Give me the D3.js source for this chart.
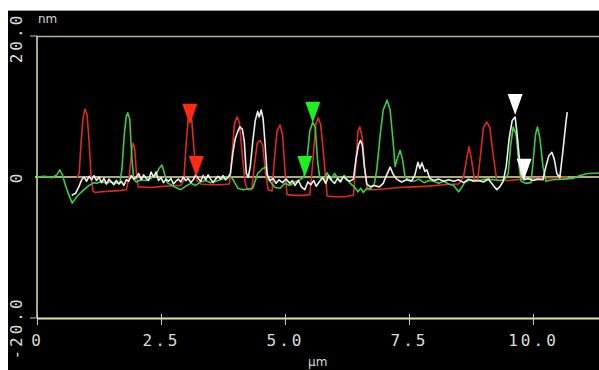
<!DOCTYPE html>
<html>
<head>
<meta charset="utf-8">
<script src="https://cdn.jsdelivr.net/npm/d3@7"></script>
<style>
	html, body { margin: 0; padding: 0; background: #fff; }
	svg { display: block; }
</style>
</head>
<body>
<svg id="chart"></svg>
<script>
// profile data : [x (µm), height (nm)]
const red = [
	[0.80, -0.2], [0.85, 0.5], [0.89, 5.0], [0.93, 8.5], [0.97, 9.6], [1.01, 8.8], [1.05, 5.0], [1.09, 0.0],
	[1.13, -2.0], [1.17, -2.2], [1.30, -2.1], [1.50, -2.0], [1.70, -1.9], [1.80, -1.8], [1.86, 0.0], [1.91, 3.8],
	[1.94, 4.8], [1.97, 4.0], [2.00, 1.0], [2.04, -1.4], [2.30, -1.5], [2.60, -1.3], [2.90, -1.2], [2.96, -0.5],
	[3.00, 4.0], [3.05, 8.3], [3.08, 9.0], [3.12, 8.0], [3.17, 3.5], [3.22, -0.5], [3.30, -1.0], [3.50, -1.1],
	[3.70, -1.1], [3.88, -1.0], [3.93, 3.0], [3.98, 7.5], [4.03, 8.5], [4.08, 7.8], [4.14, 3.0], [4.20, -1.0],
	[4.25, -1.8], [4.33, -1.8], [4.38, 1.5], [4.44, 4.8], [4.50, 5.2], [4.55, 4.5], [4.60, 1.0], [4.66, -1.8],
	[4.74, -2.0], [4.78, 2.0], [4.84, 6.5], [4.90, 7.4], [4.95, 6.0], [5.00, 1.0], [5.04, -2.5], [5.20, -2.6],
	[5.40, -2.6], [5.50, -2.5], [5.56, 2.0], [5.62, 7.5], [5.67, 8.4], [5.72, 7.4], [5.78, 3.0], [5.85, -2.7],
	[6.00, -2.8], [6.20, -2.8], [6.38, -2.6], [6.43, 2.0], [6.47, 6.5], [6.51, 7.1], [6.56, 5.5], [6.61, 1.0],
	[6.66, -1.8], [6.80, -1.8], [7.00, -1.7], [7.30, -1.5], [7.60, -1.4], [7.90, -1.3], [8.20, -1.1], [8.50, -1.0],
	[8.60, 0.0], [8.66, 2.5], [8.71, 4.3], [8.76, 2.5], [8.82, -0.3], [8.88, -0.6], [8.94, 3.0], [9.00, 7.0],
	[9.07, 7.8], [9.13, 7.0], [9.20, 3.0], [9.27, -0.5], [9.50, -0.5], [9.80, -0.3], [10.10, -0.2], [10.50, -0.1],
	[10.70, 0.0],
];

const green = [
	[0.00, 0.0], [0.16, 0.1], [0.30, -0.1], [0.40, 0.3], [0.46, 1.0], [0.52, 0.2], [0.56, -0.9], [0.64, -2.5],
	[0.71, -3.7], [0.78, -3.0], [0.87, -2.3], [0.95, -1.8], [1.05, -1.2], [1.15, -0.8], [1.21, -0.9], [1.30, -0.6],
	[1.40, -0.9], [1.47, -0.7], [1.57, -0.8], [1.67, -0.9], [1.71, 1.0], [1.76, 6.0], [1.80, 8.6], [1.83, 9.1],
	[1.87, 8.2], [1.91, 3.0], [1.95, -0.3], [2.00, -0.7], [2.10, -0.4], [2.20, -0.5], [2.30, -0.2], [2.40, 0.3],
	[2.46, 1.2], [2.52, 1.7], [2.57, 0.5], [2.62, -0.8], [2.70, -1.1], [2.80, -1.5], [2.90, -1.8], [3.00, -1.3],
	[3.10, -0.9], [3.20, -1.2], [3.30, -0.7], [3.40, -0.5], [3.50, -0.8], [3.60, -0.6], [3.70, -0.4], [3.80, -0.1],
	[3.90, 0.2], [3.97, -0.6], [4.05, -1.6], [4.15, -1.8], [4.25, -1.7], [4.35, -1.6], [4.45, 0.5], [4.55, 1.2],
	[4.62, 1.4], [4.66, -0.3], [4.72, -0.8], [4.80, -1.5], [4.90, -1.6], [5.00, -0.9], [5.10, -1.2], [5.20, -0.7],
	[5.30, -0.4], [5.38, 0.0], [5.45, 3.0], [5.50, 6.5], [5.56, 7.8], [5.61, 7.0], [5.66, 2.0], [5.70, -0.1],
	[5.78, -0.3], [5.85, 0.6], [5.92, -0.4], [6.00, 0.5], [6.10, -0.6], [6.20, 0.2], [6.30, -0.8], [6.41, -1.5],
	[6.47, -2.1], [6.53, -1.6], [6.58, -2.2], [6.65, -1.6], [6.72, -1.7], [6.80, -1.0], [6.85, 1.0], [6.92, 6.0],
	[6.98, 9.5], [7.06, 10.9], [7.12, 9.5], [7.18, 5.0], [7.22, 1.5], [7.26, 2.5], [7.32, 3.8], [7.37, 2.5],
	[7.42, 0.0], [7.50, -0.4], [7.60, -0.6], [7.70, -0.3], [7.80, -0.8], [7.90, -0.5], [8.00, -0.6], [8.10, -0.9],
	[8.20, -0.6], [8.30, -1.0], [8.40, -1.2], [8.50, -2.1], [8.56, -1.5], [8.63, -0.7], [8.75, -0.4], [8.90, -0.5],
	[9.05, -0.3], [9.20, -0.4], [9.35, -0.5], [9.45, -0.2], [9.50, 0.5], [9.55, 4.5], [9.60, 7.1], [9.66, 6.0],
	[9.72, 1.5], [9.76, -0.6], [9.85, -0.9], [9.96, -0.8], [10.00, 2.0], [10.05, 6.0], [10.09, 7.1], [10.14, 5.5],
	[10.20, 1.5], [10.26, -0.6], [10.40, -0.4], [10.60, -0.3], [10.80, -0.2], [10.95, 0.2], [11.10, 0.5], [11.40, 0.6],
];

const white = [
	[0.70, -2.6], [0.78, -2.3], [0.85, -1.3], [0.90, -0.4], [0.95, 0.0], [1.00, -0.6], [1.05, 0.1], [1.10, -0.4],
	[1.15, 0.2], [1.20, -0.5], [1.25, 0.0], [1.30, -0.8], [1.35, -0.2], [1.40, -1.0], [1.45, -0.3], [1.50, -0.7],
	[1.55, -1.1], [1.60, -0.5], [1.65, -1.0], [1.70, -0.6], [1.75, -1.2], [1.80, -0.4], [1.85, -0.6], [1.90, 0.2],
	[1.95, -0.3], [2.00, -0.1], [2.05, 0.5], [2.10, -0.4], [2.15, 0.3], [2.20, -0.2], [2.25, -0.5], [2.30, 0.7],
	[2.35, 0.0], [2.40, 0.7], [2.45, -0.5], [2.50, -0.1], [2.55, -0.8], [2.60, -0.3], [2.65, -0.6], [2.70, -0.2],
	[2.75, -1.0], [2.80, -0.6], [2.85, -0.3], [2.90, -0.7], [2.95, 0.0], [3.00, -0.5], [3.05, -0.2], [3.10, -0.8],
	[3.15, -0.4], [3.20, 0.3], [3.25, -0.2], [3.30, -0.6], [3.35, 0.2], [3.40, -0.4], [3.45, 0.3], [3.50, -0.3],
	[3.55, -0.8], [3.60, -0.3], [3.65, 0.1], [3.70, -0.3], [3.75, 0.2], [3.80, -0.4], [3.85, -0.1], [3.90, 0.5],
	[3.95, 3.5], [4.00, 5.5], [4.05, 6.5], [4.09, 7.1], [4.14, 6.8], [4.18, 5.0], [4.22, 0.5], [4.26, 0.0],
	[4.30, 1.5], [4.35, 5.0], [4.40, 8.0], [4.45, 9.3], [4.48, 8.5], [4.52, 9.5], [4.56, 8.2], [4.60, 4.5],
	[4.64, 0.3], [4.70, -0.5], [4.76, -0.2], [4.82, -0.9], [4.88, -0.4], [4.95, -0.8], [5.02, -0.3], [5.10, -0.9],
	[5.15, -0.5], [5.20, -1.2], [5.27, -0.5], [5.33, -1.4], [5.40, -1.8], [5.46, -0.7], [5.52, -1.1], [5.58, -0.5],
	[5.63, -1.3], [5.70, -0.6], [5.76, -0.1], [5.82, -0.9], [5.88, 0.2], [5.94, -0.5], [6.00, -0.9], [6.06, -0.2],
	[6.12, -0.7], [6.18, 0.1], [6.24, -0.4], [6.30, -0.6], [6.38, -0.3], [6.43, 2.5], [6.48, 4.5], [6.52, 5.2],
	[6.56, 4.5], [6.60, 1.5], [6.65, -1.0], [6.72, -1.4], [6.80, -1.2], [6.90, -1.4], [6.98, -0.9], [7.05, 0.3],
	[7.12, 1.4], [7.18, 0.4], [7.25, -0.3], [7.35, -0.7], [7.45, -0.4], [7.55, -0.6], [7.62, 0.3], [7.68, 2.1],
	[7.72, 1.2], [7.76, 2.0], [7.82, 0.8], [7.86, 1.0], [7.92, -0.2], [8.00, -0.5], [8.10, -0.3], [8.20, -0.6],
	[8.30, -0.4], [8.40, -0.6], [8.50, -0.4], [8.60, -0.8], [8.70, -0.3], [8.80, -0.6], [8.90, -0.5], [9.00, -0.7],
	[9.10, -0.3], [9.20, -1.2], [9.27, -1.8], [9.33, -1.4], [9.40, -0.6], [9.46, 1.5], [9.52, 5.5], [9.58, 8.0],
	[9.64, 8.5], [9.68, 6.0], [9.72, 3.0], [9.76, 0.5], [9.82, -0.4], [9.90, -0.2], [10.00, -0.5], [10.10, -0.3],
	[10.20, -0.4], [10.26, 1.5], [10.32, 3.0], [10.38, 3.5], [10.43, 2.5], [10.48, 0.5], [10.54, -0.1], [10.60, 3.5],
	[10.66, 7.5], [10.69, 9.2],
];

// cursor markers : [x (µm), tip height (nm), colour]
const markers = [
	[3.08, 7.4, "#ff2a12"], [3.21, 0.0, "#ff2a12"],
	[5.56, 7.7, "#1ef01e"], [5.40, 0.0, "#1ef01e"],
	[9.64, 8.8, "#ffffff"], [9.82, -0.4, "#ffffff"],
];

const xTicks = [0, 2.5, 5.0, 7.5, 10.0];
const xTickLabels = ["0", "2.5", "5.0", "7.5", "10.0"];
const yTicks = [20, 0, -20];
const yTickLabels = ["20.0", "0", "-20.0"];

const width = 599;
const height = 370;

const svg = d3.select("#chart")
              .attr("width", width)
              .attr("height", height);

// black screen with white frame top/left
svg.append("rect")
   .attr("x", 8).attr("y", 10)
   .attr("width", width - 8).attr("height", height - 10)
   .attr("fill", "#000");
svg.append("line")
   .attr("x1", 8).attr("x2", width).attr("y1", 10.5).attr("y2", 10.5)
   .attr("stroke", "#9a9a9a");

const xScale = d3.scaleLinear([0, 12], [37, 37 + 12 * 49.6]);
const yScale = d3.scaleLinear([-20, 20], [318, 36]);

const axisColor = "#e2e4a6";
const font = "'DejaVu Sans Mono', monospace";

// frame lines
svg.append("line")
   .attr("x1", xScale(0)).attr("x2", width)
   .attr("y1", yScale(20) + 0.5).attr("y2", yScale(20) + 0.5)
   .attr("stroke", "#b4b494").attr("stroke-width", 1.5);
svg.append("line")
   .attr("x1", xScale(0)).attr("x2", xScale(0))
   .attr("y1", yScale(20)).attr("y2", yScale(-20))
   .attr("stroke", axisColor).attr("stroke-width", 1.5);

// x axis
const xAxis = d3.axisBottom(xScale)
                .tickValues(xTicks)
                .tickFormat((d, i) => xTickLabels[i])
                .tickSize(7)
                .tickSizeOuter(0);

svg.append("g")
   .attr("transform", `translate(0, ${yScale(-20)})`)
   .call(xAxis)
   .call(g => g.select(".domain")
               .attr("stroke", axisColor)
               .attr("stroke-width", 2))
   .call(g => g.selectAll(".tick line")
               .attr("stroke", "#c8c8c8")
               .attr("y1", -4))
   .call(g => g.selectAll(".tick text")
               .attr("fill", "#dcdcdc")
               .attr("font-family", font)
               .attr("font-size", 16)
               .attr("letter-spacing", 3)
               .attr("dy", "1.15em"));

// y ticks (rotated labels)
const yAxis = svg.append("g");
yAxis.selectAll("line")
     .data([20, -20])
     .join("line")
     .attr("x1", 30).attr("x2", xScale(0))
     .attr("y1", d => yScale(d)).attr("y2", d => yScale(d))
     .attr("stroke", "#c8c8c8");
yAxis.selectAll("text")
     .data(yTicks)
     .join("text")
     .attr("transform", d => `translate(22, ${yScale(d) + (d === 20 ? 2 : d === -20 ? 10 : 0)}) rotate(-90)`)
     .attr("text-anchor", "middle")
     .attr("fill", "#dcdcdc")
     .attr("font-family", font)
     .attr("font-size", 16)
     .attr("letter-spacing", 3)
     .text((d, i) => yTickLabels[i]);

// units
svg.append("text")
   .attr("x", 38).attr("y", 23)
   .attr("fill", "#d8d8d8")
   .attr("font-family", "'DejaVu Sans', sans-serif")
   .attr("font-size", 12)
   .text("nm");
svg.append("text")
   .attr("x", 308).attr("y", 366)
   .attr("fill", "#d8d8d8")
   .attr("font-family", "'DejaVu Sans', sans-serif")
   .attr("font-size", 12)
   .text("µm");

// zero reference
svg.append("line")
   .attr("x1", xScale(0) - 2).attr("x2", width)
   .attr("y1", yScale(0)).attr("y2", yScale(0))
   .attr("stroke", axisColor).attr("stroke-width", 1.5);

// profiles
const line = d3.line()
               .x(d => xScale(d[0]))
               .y(d => yScale(d[1]));

const series = [
	{ data: red,   color: "#dc2a1c" },
	{ data: green, color: "#3ccc3c" },
	{ data: white, color: "#eeeeee" },
];

svg.append("g")
   .selectAll("path")
   .data(series)
   .join("path")
   .attr("d", d => line(d.data))
   .attr("fill", "none")
   .attr("stroke", d => d.color)
   .attr("stroke-width", 1.6)
   .attr("stroke-linejoin", "round");

// cursor triangles, pointing down onto the profile
const tw = 15, th = 21;
svg.append("g")
   .selectAll("path")
   .data(markers)
   .join("path")
   .attr("transform", d => `translate(${xScale(d[0])}, ${yScale(d[1])})`)
   .attr("d", `M0,0L${-tw / 2},${-th}H${tw / 2}Z`)
   .attr("fill", d => d[2]);
</script>
</body>
</html>
